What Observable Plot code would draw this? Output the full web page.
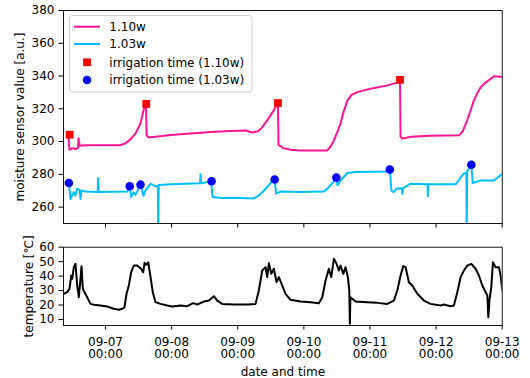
<!DOCTYPE html>
<html><head><meta charset="utf-8">
<script src="https://cdn.jsdelivr.net/npm/d3@7"></script>
<script src="https://cdn.jsdelivr.net/npm/@observablehq/plot@0.6"></script>
<style>
body{margin:0;background:#fff;}
#wrap{position:relative;width:530px;height:378px;font-family:"DejaVu Sans",sans-serif;}
#topPanel{position:absolute;left:0;top:0;}
#botPanel{position:absolute;left:0;top:232px;}
#legend{position:absolute;left:0;top:0;}
</style></head>
<body>
<div id="wrap"><div id="topPanel"></div><div id="botPanel"></div><svg id="legend" width="260" height="100"></svg></div>
<script>
// hours since 09-06 00:00, value
const moisture110 = [[10.5,304],[10.9,295],[12.0,296],[13.1,295.5],[14.0,296],[14.2,302],[14.6,297.5],[16.7,297.7],[22.2,297.7],[29.4,297.8],[31.3,299],[33.1,301.5],[34.9,305],[36.7,311],[38.2,322],[38.7,323],[38.9,304],[39.6,302.5],[42.2,303],[47.6,304],[54.9,305],[62.1,305.8],[69.4,306.5],[74.8,306.8],[77.4,305.5],[79.6,306.5],[81.0,309],[82.7,313],[83.9,316],[85.4,320],[86.6,323.5],[86.8,298],[88.6,296],[91.2,295],[94.8,294.6],[102.1,294.6],[104.5,294.6],[105.7,297],[106.9,300.7],[108.2,306],[109.3,311],[110.4,318],[111.8,325],[113.3,328.5],[115.4,330.2],[120.2,332.3],[126.3,334.3],[130.5,336.3],[130.9,337.7],[131.1,303],[131.7,301.8],[134.8,303],[142.0,303.5],[152.3,303.8],[153.6,306],[155.3,313],[156.5,319],[157.7,325],[159.1,330],[160.2,333.2],[162.0,336],[163.8,338.3],[165.0,339.8],[168.0,339.4]];
const moisture103 = [[10.7,274.7],[11.3,265],[12.5,269.2],[13.1,267],[13.7,271.3],[14.6,270.5],[14.9,265],[15.3,270],[16.7,269.5],[21.2,269.2],[21.35,277.7],[21.5,269.2],[31.9,269.5],[32.8,272.7],[33.3,266.2],[34.2,269],[34.9,267.5],[36.7,273.7],[37.8,267],[38.5,270],[40.3,274.3],[42.2,272.7],[43.0,273],[43.15,240],[43.3,273.5],[47.6,273.9],[58.3,274.5],[58.5,280],[58.7,274.5],[62.3,275.7],[62.9,266.2],[65.8,265.5],[73.0,265.5],[77.7,265.3],[79.6,267],[82.1,271],[84.5,276],[85.4,276.9],[85.9,268.2],[87.5,269.5],[94.8,269.2],[103.3,269.5],[105.0,272],[106.8,275.5],[107.8,278],[108.2,273.3],[109.7,277],[111.8,280.8],[114.8,281.4],[126.9,281.8],[127.2,283],[127.8,270],[128.6,269.2],[129.7,271.3],[131.6,271.5],[131.75,268.2],[131.9,271.5],[134.8,274.3],[140.9,274],[141.0,266.6],[141.1,274],[151.1,273.9],[152.5,277],[154.0,280.4],[155.0,281],[155.1,240],[155.3,282],[156.8,285.9],[157.3,274.7],[160.2,276.3],[165.0,276.3],[168.0,280.4]];
const irrigation110 = [[11.0,304.2],[38.8,323],[86.6,323.5],[130.9,337.7]];
const irrigation103 = [[10.7,274.7],[32.8,272.7],[36.7,273.7],[62.5,275.8],[85.4,276.9],[107.8,278],[127.2,283],[156.8,285.9]];
const temperature = [[8.86,27.8],[10.09,28.9],[10.93,31.2],[11.55,40.4],[11.91,38.1],[12.49,46.2],[13.11,48.5],[13.72,33.5],[14.31,25.4],[14.92,38.1],[15.29,46.9],[15.76,31.2],[16.38,28.9],[17.36,25.4],[18.55,20.8],[19.75,20.2],[22.18,19.7],[24.62,19.0],[27.01,17.4],[28.83,16.7],[30.06,17.4],[30.9,18.5],[31.63,27.8],[32.46,33.5],[33.33,42.7],[34.28,47.3],[35.51,47.3],[36.71,45.5],[37.69,42.7],[38.16,49.2],[38.78,47.8],[39.5,49.6],[40.34,39.3],[41.17,28.9],[42.16,22.0],[43.97,20.8],[46.4,19.7],[48.22,19.0],[51.23,19.7],[53.67,19.2],[55.84,21.3],[57.3,20.4],[59.69,22.4],[61.51,23.1],[63.32,26.1],[64.56,23.1],[66.37,20.8],[70.59,20.4],[75.45,20.4],[78.47,20.8],[79.66,30.1],[80.9,43.9],[82.1,46.2],[82.71,39.3],[83.3,48.9],[84.17,41.6],[85.11,45.1],[86.09,35.8],[86.93,39.3],[87.91,34.7],[89.36,27.8],[91.17,23.6],[94.8,22.4],[98.44,22.0],[101.45,21.3],[102.69,25.4],[103.88,37.0],[105.08,45.1],[105.95,39.3],[106.9,52.0],[107.88,48.5],[108.71,43.9],[109.33,47.3],[110.31,41.6],[111.14,46.2],[111.98,39.3],[112.5,30],[112.7,7.0],[112.9,25.4],[114.78,22.4],[119.02,22.0],[122.65,21.5],[126.29,20.8],[128.68,23.1],[129.92,30.1],[131.11,40.4],[132.09,46.9],[132.93,46.2],[134.13,35.8],[135.36,33.5],[137.18,27.8],[139.58,23.1],[142.01,20.8],[145.64,19.7],[146.84,20.4],[149.27,19.2],[150.47,19.7],[151.7,28.9],[152.9,39.3],[154.1,43.9],[155.33,47.3],[156.79,48.5],[158.35,45.1],[159.55,40.4],[160.78,33.5],[161.98,28.9],[162.6,26.6],[162.96,11.6],[163.43,24.3],[164.05,32.3],[164.63,49.6],[165.61,46.2],[166.81,46.2],[167.43,40.4],[168.0,30.1]];
const dayTickHours = [24,48,72,96,120,144,168];
const moistureTicks = [260,280,300,320,340,360,380];
const temperatureTicks = [10,20,30,40,50,60];
const seriesNames = ["1.10w","1.03w","irrigation time (1.10w)","irrigation time (1.03w)"];
const seriesColors = ["#ff1493","#00bfff","#ff0000","#0000ff"];

const base = Date.UTC(2021,8,6);
const toDate = h => new Date(base + h*3600e3);
const rows = arr => arr.map(([h,v]) => ({t: toDate(h), v}));
const xDomain = [toDate(8.75), toDate(168)];
const dayTicks = dayTickHours.map(toDate);
const fmt = d3.utcFormat("%m-%d");
const fmt2 = d3.utcFormat("%H:%M");
const FS = 12;
const chartStyle = {fontFamily:"DejaVu Sans, sans-serif", fontSize:FS+"px", color:"black", background:"white", overflow:"visible"};

const topChart = Plot.plot({
  width:530, height:232, marginLeft:63, marginRight:28.3, marginTop:10, marginBottom:9,
  style: chartStyle,
  x:{type:"utc", domain:xDomain},
  y:{domain:[250,380]},
  marks:[
    Plot.line(rows(moisture110), {x:"t", y:"v", stroke:seriesColors[0], strokeWidth:2, clip:true}),
    Plot.line(rows(moisture103), {x:"t", y:"v", stroke:seriesColors[1], strokeWidth:2, clip:true}),
    Plot.dot(rows(irrigation110), {x:"t", y:"v", symbol:"square", r:4.4, fill:seriesColors[2], stroke:"none"}),
    Plot.dot(rows(irrigation103), {x:"t", y:"v", r:4.3, fill:seriesColors[3], stroke:"none"}),
    Plot.axisY({ticks:moistureTicks, tickSize:4.5, tickPadding:4.5, label:null}),
    Plot.axisX({ticks:dayTicks, tickSize:4.5, tickFormat:()=>"", label:null}),
    Plot.frame({stroke:"black", strokeWidth:0.9}),
    Plot.text(["moisture sensor value [a.u.]"], {frameAnchor:"left", textAnchor:"middle", lineAnchor:"middle", rotate:-90, dx:-43, text:d=>d, fontSize:FS})
  ]
});
document.getElementById("topPanel").append(topChart);

const botChart = Plot.plot({
  width:530, height:146, marginLeft:63, marginRight:28.3, marginTop:14.7, marginBottom:53,
  style: chartStyle,
  x:{type:"utc", domain:xDomain},
  y:{domain:[5.85,60]},
  marks:[
    Plot.line(rows(temperature), {x:"t", y:"v", stroke:"black", strokeWidth:2, clip:true}),
    Plot.axisY({ticks:temperatureTicks, tickSize:4.5, tickPadding:4.5, label:null}),
    Plot.axisX({ticks:dayTicks, tickSize:4.5, tickPadding:7, tickFormat:d=>fmt(d)+"\n"+fmt2(d), label:null, lineHeight:1.03}),
    Plot.frame({stroke:"black", strokeWidth:0.9}),
    Plot.text(["temperature [℃]"], {frameAnchor:"left", textAnchor:"middle", lineAnchor:"middle", rotate:-90, dx:-34.7, text:d=>d, fontSize:FS}),
    Plot.text(["date and time"], {frameAnchor:"bottom", textAnchor:"middle", dy:46.2, text:d=>d, fontSize:FS, lineAnchor:"middle"})
  ]
});
document.getElementById("botPanel").append(botChart);

// legend (inside top panel, upper left)
const lg = d3.select("#legend");
lg.append("rect").attr("x",69.5).attr("y",15.5).attr("width",182.5).attr("height",76.5).attr("rx",3)
  .attr("fill","white").attr("fill-opacity",0.8).attr("stroke","#cccccc").attr("stroke-width",0.9);
const rowY = [26.7,44,62.3,80];
seriesNames.forEach((name,i)=>{
  const y = rowY[i];
  if(i<2) lg.append("line").attr("x1",74).attr("x2",100).attr("y1",y).attr("y2",y).attr("stroke",seriesColors[i]).attr("stroke-width",2);
  else if(i===2) lg.append("rect").attr("x",87-3.9).attr("y",y-3.9).attr("width",7.8).attr("height",7.8).attr("fill",seriesColors[i]);
  else lg.append("circle").attr("cx",87).attr("cy",y).attr("r",4.3).attr("fill",seriesColors[i]);
  lg.append("text").attr("x",109.3).attr("y",y).attr("dy","0.35em").attr("font-size",FS+"px")
    .attr("font-family","DejaVu Sans, sans-serif").attr("fill","black").text(name);
});
</script>
</body></html>
